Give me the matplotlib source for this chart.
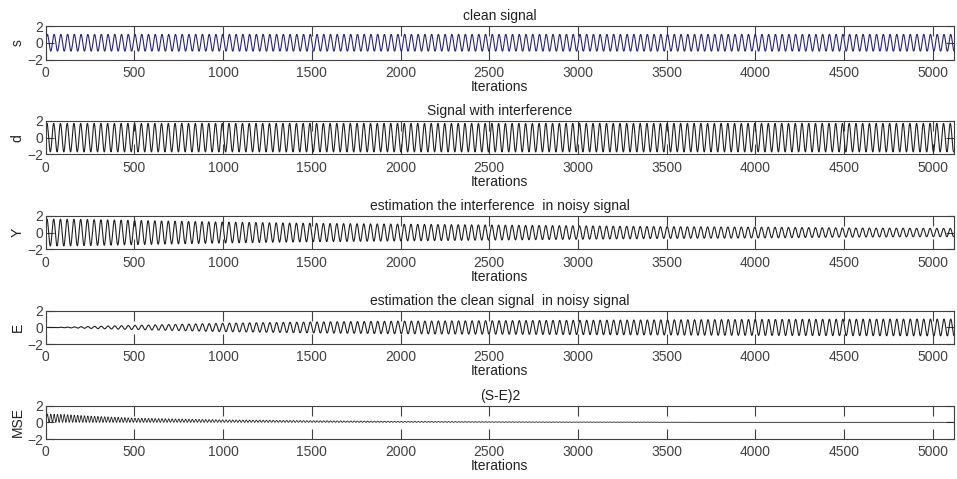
import matplotlib
matplotlib.use('Agg')
import matplotlib.pyplot as plt
import numpy as np

# Iteration count and carrier period
n_iter = 5120
cycle_len = 38

# Envelope amplitudes read at these iterations
env_iters = [0, 100, 250, 500, 1000, 1500, 2000, 2500, 3000, 3500, 3650, 3660, 4000, 4500, 5000, 5120]
s_amp = [1.0] * len(env_iters)
d_amp = [1.7] * len(env_iters)
y_amp = [1.6, 1.6, 1.55, 1.45, 1.25, 1.1, 1.0, 0.9, 0.8, 0.7, 0.68, 0.68, 0.65, 0.55, 0.5, 0.5]
e_amp = [0.0, 0.03, 0.12, 0.25, 0.5, 0.65, 0.75, 0.8, 0.85, 0.9, 0.92, 0.92, 0.95, 0.98, 1.0, 1.0]
mse_amp = [1.0, 0.95, 0.75, 0.5, 0.3, 0.2, 0.12, 0.08, 0.05, 0.03, 0.02, 0.0, 0.0, 0.0, 0.0, 0.0]

titles = ['clean signal', 'Signal with interference',
          'estimation the interference  in noisy signal',
          'estimation the clean signal  in noisy signal', '(S-E)2']
ylabels = ['s', 'd', 'Y', 'E', 'MSE']
xticks = [0, 500, 1000, 1500, 2000, 2500, 3000, 3500, 4000, 4500, 5000]
yticks = [-2, 0, 2]

n = np.arange(n_iter)
phase = 2 * np.pi * n / cycle_len


def envelope(vals):
    return np.interp(n, env_iters, vals)


s = envelope(s_amp) * np.sin(phase)
d = envelope(d_amp) * np.sin(phase + 0.4)
Y = envelope(y_amp) * np.sin(phase + 0.4)
E = envelope(e_amp) * np.sin(phase)
mse = envelope(mse_amp) * np.sin(phase) ** 2
series = [s, d, Y, E, mse]
colors = ['#25257f', '#202020', '#202020', '#202020', '#202020']
widths = [0.8, 0.8, 0.8, 0.8, 0.6]

plt.rcParams['font.family'] = ['Liberation Sans', 'DejaVu Sans']
fig = plt.figure(figsize=(9.57, 4.79), dpi=100)
W, H = 957.0, 479.0
left, right = 45.7, 954.0
for i in range(5):
    top = 26 + 94.9 * i
    ax = fig.add_axes([left / W, 1 - (top + 33.5) / H, (right - left) / W, 33.5 / H])
    ax.plot(n, series[i], color=colors[i], linewidth=widths[i])
    ax.set_xlim(0, n_iter)
    ax.set_ylim(-2, 2)
    ax.set_xticks(xticks)
    ax.set_yticks(yticks)
    ax.tick_params(direction='in', top=True, right=True, length=7, width=0.8,
                   labelsize=10, colors='#404040')
    ax.tick_params(axis='x', pad=4.5)
    ax.tick_params(axis='y', length=6, pad=1.5)
    for sp in ax.spines.values():
        sp.set_color('#404040')
        sp.set_linewidth(0.8)
    ax.set_title(titles[i], fontsize=10, pad=4, color='#202020')
    ax.set_xlabel('Iterations', fontsize=10, labelpad=0, color='#202020')
    ax.set_ylabel(ylabels[i], fontsize=10, labelpad=2, color='#202020')

fig.savefig('out.png', dpi=100)
